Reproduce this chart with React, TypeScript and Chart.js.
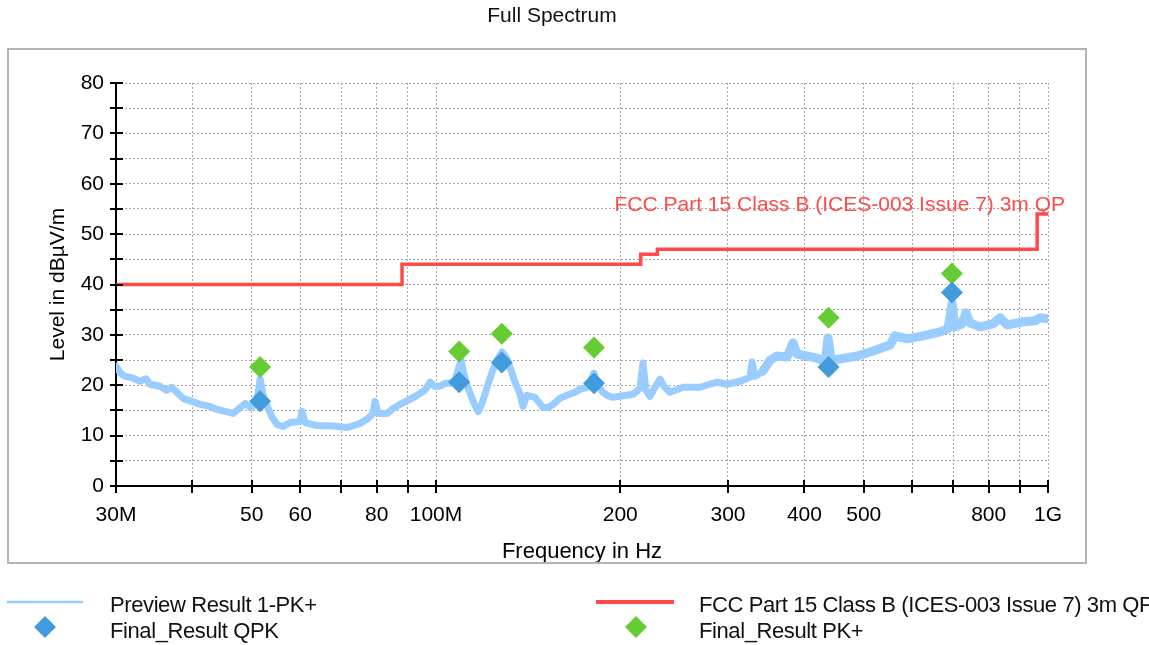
import { useEffect, useRef } from 'react';
import { Chart, registerables } from 'chart.js';

Chart.register(...registerables);

const FONT = '"Liberation Sans", Arial, sans-serif';

const chartTitle = 'Full Spectrum';
const xAxisTitle = 'Frequency in Hz';
const yAxisTitle = 'Level in dBµV/m';
const limitLabel = 'FCC Part 15 Class B (ICES-003 Issue 7) 3m QP';

const xTickValues = [30, 40, 50, 60, 70, 80, 90, 100, 200, 300, 400, 500, 600, 700, 800, 900, 1000];
const xTickLabels = ['30M', '', '50', '60', '', '80', '', '100M', '200', '300', '400', '500', '', '', '800', '', '1G'];
const yTickValues = [0, 5, 10, 15, 20, 25, 30, 35, 40, 45, 50, 55, 60, 65, 70, 75, 80];
const yTickLabels = ['0', '', '10', '', '20', '', '30', '', '40', '', '50', '', '60', '', '70', '', '80'];

// Preview Result 1-PK+ : [frequency MHz, level dBµV/m]
const previewTrace: [number, number][] = [
  [30.0, 23.8], [30.5, 22.4], [31.0, 21.8], [32.0, 21.4], [32.8, 20.8], [33.6, 21.3], [34.1, 20.2],
  [35.4, 19.8], [36.3, 19.0], [37.0, 19.6], [38.6, 17.4], [41.2, 16.2], [42.7, 15.8], [43.9, 15.2],
  [45.2, 14.8], [46.6, 14.4], [47.9, 15.6], [48.8, 16.4], [49.7, 15.6], [50.6, 16.0], [51.2, 18.5],
  [51.6, 21.2], [52.2, 18.0], [53.0, 15.8], [54.0, 13.6], [55.0, 12.2], [56.2, 11.8], [57.8, 12.6],
  [59.9, 12.8], [60.4, 14.8], [61.1, 12.6], [63.9, 12.0], [67.9, 11.9], [71.6, 11.6], [75.1, 12.4],
  [77.4, 13.4], [78.9, 14.4], [79.5, 16.8], [80.4, 14.4], [83.2, 14.4], [85.1, 15.4], [87.3, 16.2],
  [90.0, 17.0], [93.1, 18.0], [95.9, 19.0], [97.8, 20.6], [99.6, 19.8], [101.5, 19.8], [103.5, 20.4],
  [105.4, 20.4], [107.4, 21.0], [108.6, 23.0], [109.9, 25.0], [111.1, 22.2], [112.4, 20.0],
  [113.7, 18.4], [115.4, 16.4], [117.2, 14.8], [118.9, 16.4], [121.2, 19.6], [123.5, 22.6],
  [125.8, 25.0], [128.2, 26.6], [130.1, 25.6], [132.1, 23.6], [134.6, 20.6], [137.1, 18.4],
  [138.7, 15.8], [140.8, 18.0], [145.1, 17.6], [149.6, 15.6], [152.4, 15.6], [155.3, 16.2],
  [159.4, 17.4], [163.7, 18.0], [168.7, 18.6], [171.8, 19.2], [176.5, 19.6], [179.2, 21.0],
  [181.2, 22.4], [183.9, 20.0], [187.4, 18.6], [190.3, 18.0], [194.6, 17.6], [199.8, 17.8],
  [209.9, 18.2], [215.4, 19.4], [217.9, 24.4], [220.3, 19.0], [223.7, 17.8], [227.9, 19.6],
  [232.3, 21.2], [235.8, 19.8], [241.2, 18.6], [253.3, 19.6], [270.0, 19.6], [287.8, 20.6],
  [298.9, 20.2], [313.9, 20.8], [325.9, 21.6], [328.4, 24.6], [332.1, 21.8], [342.2, 22.8],
  [351.4, 25.0], [360.6, 25.8], [374.8, 25.6], [383.2, 28.4], [388.9, 26.2], [403.9, 25.8],
  [419.4, 25.4], [432.3, 24.6], [437.1, 29.4], [442.2, 25.0], [457.3, 25.2], [487.5, 25.8],
  [517.8, 26.8], [552.0, 28.0], [562.5, 29.8], [588.3, 29.2], [624.9, 29.8], [666.3, 30.6],
  [686.5, 31.2], [696.9, 36.2], [704.8, 31.6], [723.6, 32.2], [734.5, 34.4], [745.5, 32.4],
  [774.3, 31.6], [813.0, 32.2], [834.9, 33.4], [857.1, 32.0], [910.2, 32.6], [952.3, 32.8],
  [970.5, 33.4], [1000, 33.2],
];

const limitFreq = [30, 88, 88, 216, 216, 230, 230, 960, 960, 1000];
const limitLevel = [40, 40, 44, 44, 46, 46, 47, 47, 54, 54];

const markerFreq = [51.6, 109.1, 128.1, 181.2, 438, 696.7];
const qpkLevel = [16.8, 20.6, 24.5, 20.4, 23.6, 38.4];
const pkLevel = [23.6, 26.7, 30.2, 27.5, 33.4, 42.2];

const COLORS = {
  preview: '#99ccff',
  limit: '#ff4a4a',
  qpk: '#419bdc',
  pk: '#66cc33',
  grid: '#a8a8a8',
  frame: '#b4b4b4',
};

function diamond(ctx: CanvasRenderingContext2D, x: number, y: number, r: number, color: string) {
  ctx.beginPath();
  ctx.moveTo(x - r, y);
  ctx.lineTo(x, y - r);
  ctx.lineTo(x + r, y);
  ctx.lineTo(x, y + r);
  ctx.closePath();
  ctx.fillStyle = color;
  ctx.fill();
}

const decorPlugin = {
  id: 'decor',
  beforeDraw(chart: any) {
    const ctx = chart.ctx as CanvasRenderingContext2D;
    ctx.save();
    ctx.fillStyle = '#ffffff';
    ctx.fillRect(0, 0, chart.width, chart.height);
    ctx.restore();
  },
  afterDatasetsDraw(chart: any) {
    const ctx = chart.ctx as CanvasRenderingContext2D;
    ctx.save();
    ctx.font = `21px ${FONT}`;
    ctx.fillStyle = COLORS.limit;
    ctx.textAlign = 'right';
    ctx.textBaseline = 'alphabetic';
    ctx.fillText(limitLabel, 1065, 211);
    ctx.restore();
  },
  afterDraw(chart: any) {
    const ctx = chart.ctx as CanvasRenderingContext2D;
    const xs = chart.scales.x;
    const ys = chart.scales.y;
    const area = chart.chartArea;
    ctx.save();
    // crossing tick marks
    ctx.strokeStyle = '#000';
    ctx.lineWidth = 2;
    ctx.beginPath();
    yTickValues.forEach((v) => {
      const py = Math.round(ys.getPixelForValue(v));
      ctx.moveTo(area.left - 6, py);
      ctx.lineTo(area.left + 7, py);
    });
    xTickValues.forEach((v) => {
      const px = Math.round(xs.getPixelForValue(v));
      ctx.moveTo(px, area.bottom - 6);
      ctx.lineTo(px, area.bottom + 7);
    });
    ctx.stroke();

    // clip area under frame
    ctx.fillStyle = '#ffffff';
    ctx.fillRect(0, 564, chart.width, 26);

    // frame
    ctx.strokeStyle = COLORS.frame;
    ctx.lineWidth = 2;
    ctx.strokeRect(8, 49, 1078, 514);

    // title
    ctx.fillStyle = '#111';
    ctx.font = `21px ${FONT}`;
    ctx.textAlign = 'center';
    ctx.textBaseline = 'alphabetic';
    ctx.fillText(chartTitle, 552, 22);

    // legend
    const ds = chart.data.datasets;
    ctx.textAlign = 'left';
    ctx.font = `22px ${FONT}`;
    (ctx as any).letterSpacing = '-0.4px';
    ctx.fillStyle = '#111';
    // row 1
    ctx.strokeStyle = COLORS.preview;
    ctx.lineWidth = 2.5;
    ctx.beginPath();
    ctx.moveTo(7, 602);
    ctx.lineTo(83, 602);
    ctx.stroke();
    ctx.fillText(ds[2].label, 110, 611.5);
    ctx.strokeStyle = COLORS.limit;
    ctx.lineWidth = 4;
    ctx.beginPath();
    ctx.moveTo(596, 602);
    ctx.lineTo(674, 602);
    ctx.stroke();
    ctx.fillStyle = '#111';
    ctx.fillText(ds[3].label, 699, 611.5);
    // row 2
    diamond(ctx, 45, 627, 11, COLORS.qpk);
    ctx.fillStyle = '#111';
    ctx.fillText(ds[0].label, 110, 638);
    diamond(ctx, 636, 627, 11, COLORS.pk);
    ctx.fillStyle = '#111';
    ctx.fillText(ds[1].label, 699, 638);
    (ctx as any).letterSpacing = '0px';
    ctx.restore();
  },
};

export default function App() {
  const ref = useRef<HTMLCanvasElement>(null);

  useEffect(() => {
    document.body.style.margin = '0';
    const canvas = ref.current;
    if (!canvas) return;

    const chart = new Chart(canvas, {
      type: 'line',
      data: {
        datasets: [
          {
            label: 'Final_Result QPK',
            data: markerFreq.map((f, i) => ({ x: f, y: qpkLevel[i] })),
            showLine: false,
            pointStyle: 'rectRot',
            pointRadius: 11,
            pointBackgroundColor: COLORS.qpk,
            pointBorderWidth: 0,
            borderColor: COLORS.qpk,
            backgroundColor: COLORS.qpk,
          },
          {
            label: 'Final_Result PK+',
            data: markerFreq.map((f, i) => ({ x: f, y: pkLevel[i] })),
            showLine: false,
            pointStyle: 'rectRot',
            pointRadius: 11,
            pointBackgroundColor: COLORS.pk,
            pointBorderWidth: 0,
            borderColor: COLORS.pk,
            backgroundColor: COLORS.pk,
          },
          {
            label: 'Preview Result 1-PK+',
            data: previewTrace.map(([f, l]) => ({ x: f, y: l })),
            borderColor: COLORS.preview,
            borderWidth: 7,
            borderJoinStyle: 'round',
            borderCapStyle: 'round',
            segment: {
              borderWidth: (c: any) => (c.p0.parsed.x >= 340 ? 9 : 7),
            },
            pointRadius: 0,
            tension: 0,
            fill: false,
          },
          {
            label: 'FCC Part 15 Class B (ICES-003 Issue 7) 3m QP',
            data: limitFreq.map((f, i) => ({ x: f, y: limitLevel[i] })),
            borderColor: COLORS.limit,
            borderWidth: 3.5,
            pointRadius: 0,
            tension: 0,
            fill: false,
          },
        ],
      },
      options: {
        animation: false,
        responsive: false,
        maintainAspectRatio: false,
        devicePixelRatio: 1,
        layout: { padding: { left: 0, top: 83, right: 101, bottom: 0 } },
        plugins: {
          legend: { display: false },
          title: { display: false },
          tooltip: { enabled: false },
        },
        scales: {
          x: {
            type: 'logarithmic',
            min: 30,
            max: 1000,
            afterBuildTicks: (s: any) => {
              s.ticks = xTickValues.map((v) => ({ value: v }));
            },
            afterFit: (s: any) => {
              s.height = 159;
            },
            ticks: {
              autoSkip: false,
              maxRotation: 0,
              minRotation: 0,
              padding: 17,
              color: '#000',
              font: { family: FONT, size: 21 },
              callback: (_v: any, i: number) => xTickLabels[i],
            },
            grid: {
              drawTicks: false,
              lineWidth: 1,
              color: (c: any) => (c.tick && c.tick.value === 30 ? 'rgba(0,0,0,0)' : COLORS.grid),
            },
            border: { display: true, color: '#000', width: 2, dash: [2, 2] },
            title: {
              display: true,
              text: xAxisTitle,
              color: '#000',
              font: { family: FONT, size: 22 },
              padding: { top: 0, bottom: 80 },
            },
          },
          y: {
            type: 'linear',
            min: 0,
            max: 80,
            afterBuildTicks: (s: any) => {
              s.ticks = yTickValues.map((v) => ({ value: v }));
            },
            afterFit: (s: any) => {
              s.width = 116;
            },
            ticks: {
              autoSkip: false,
              padding: 12,
              color: '#000',
              font: { family: FONT, size: 21 },
              callback: (_v: any, i: number) => yTickLabels[i],
            },
            grid: {
              drawTicks: false,
              lineWidth: 1,
              color: (c: any) => (c.tick && c.tick.value === 0 ? 'rgba(0,0,0,0)' : COLORS.grid),
            },
            border: { display: true, color: '#000', width: 2, dash: [2, 2] },
            title: {
              display: true,
              text: yAxisTitle,
              color: '#000',
              font: { family: FONT, size: 21 },
              padding: { top: 46, bottom: 0 },
            },
          },
        },
      },
      plugins: [decorPlugin],
    } as any);

    return () => chart.destroy();
  }, []);

  return (
    <div style={{ position: 'relative', width: 1149, height: 645 }}>
      <canvas ref={ref} width={1149} height={645} style={{ display: 'block', width: 1149, height: 645 }} />
    </div>
  );
}
